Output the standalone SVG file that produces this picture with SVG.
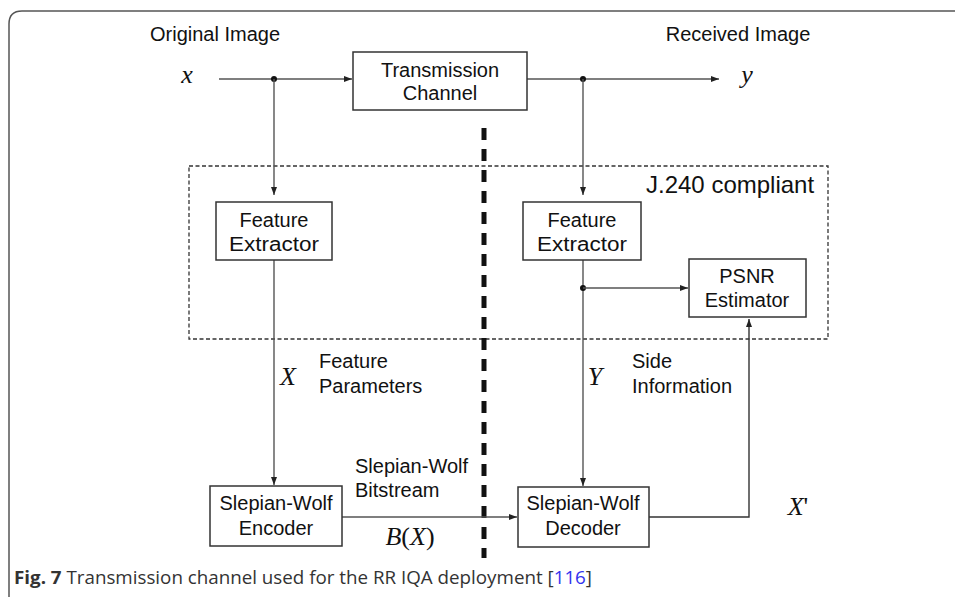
<svg xmlns="http://www.w3.org/2000/svg" width="955" height="599" viewBox="0 0 955 599">
<style>
.box{fill:#fff;stroke:#333;stroke-width:1.5}
.t{font-family:"Liberation Sans",Arial,sans-serif;font-size:20px;fill:#111;text-anchor:middle}
.tl{font-family:"Liberation Sans",Arial,sans-serif;font-size:20px;fill:#111}
.m{font-family:"Liberation Serif","Times New Roman",serif;font-style:italic;font-size:26px;fill:#111;text-anchor:middle}
.up{font-style:normal}
.c{stroke:#555;stroke-width:1.4;fill:none}
.cap{font-family:"Open Sans","Noto Sans",sans-serif;font-size:18.5px;fill:#333}
</style>
<defs>
<marker id="ah" viewBox="0 0 8 6" refX="8" refY="3" markerWidth="8" markerHeight="6" markerUnits="userSpaceOnUse" orient="auto">
<path d="M0,0 L8,3 L0,6 Z" fill="#222"/>
</marker>
</defs>
<rect width="955" height="599" fill="#fff"/>
<path d="M9,597 L9,24 Q9,11 22,11 L955,11" fill="none" stroke="#555" stroke-width="1.5"/>

<g id="region">
<rect x="189" y="166" width="639" height="173" fill="none" stroke="#333" stroke-width="1.3" stroke-dasharray="4,2.5"/>
<text class="tl" x="646" y="193" style="font-size:24px">J.240 compliant</text>
</g>

<g id="divider">
<line x1="484" y1="128" x2="484" y2="558" stroke="#111" stroke-width="5" stroke-dasharray="12,9"/>
</g>

<g id="connectors">
<line class="c" x1="219" y1="79" x2="352" y2="79" marker-end="url(#ah)"/>
<circle cx="274" cy="79" r="3" fill="#111"/>
<line class="c" x1="274" y1="79" x2="274" y2="195" marker-end="url(#ah)"/>
<line class="c" x1="527" y1="79" x2="719" y2="79" marker-end="url(#ah)"/>
<circle cx="583" cy="79" r="3" fill="#111"/>
<line class="c" x1="583" y1="79" x2="583" y2="195" marker-end="url(#ah)"/>
<line class="c" x1="274" y1="260" x2="274" y2="485" marker-end="url(#ah)"/>
<line class="c" x1="583" y1="260" x2="583" y2="486" marker-end="url(#ah)"/>
<circle cx="583" cy="288" r="3" fill="#111"/>
<line class="c" x1="583" y1="288" x2="688" y2="288" marker-end="url(#ah)"/>
<line class="c" x1="342" y1="517" x2="517" y2="517" marker-end="url(#ah)"/>
<polyline class="c" points="649,517 749,517 749,319" marker-end="url(#ah)" style="stroke:#333"/>
</g>

<g id="tc">
<rect class="box" x="353" y="52" width="174" height="58"/>
<text class="t" x="440" y="77">Transmission</text>
<text class="t" x="440" y="100">Channel</text>
</g>
<g id="fe1">
<rect class="box" x="216" y="202" width="116" height="58"/>
<text class="t" x="274" y="227">Feature</text>
<text class="t" x="274" y="251" textLength="90" lengthAdjust="spacingAndGlyphs">Extractor</text>
</g>
<g id="fe2">
<rect class="box" x="523" y="202" width="118" height="58"/>
<text class="t" x="582" y="227">Feature</text>
<text class="t" x="582" y="251" textLength="90" lengthAdjust="spacingAndGlyphs">Extractor</text>
</g>
<g id="psnr">
<rect class="box" x="689" y="259" width="117" height="58"/>
<text class="t" x="747" y="283">PSNR</text>
<text class="t" x="747" y="307">Estimator</text>
</g>
<g id="enc">
<rect class="box" x="210" y="486" width="132" height="60"/>
<text class="t" x="276" y="510">Slepian-Wolf</text>
<text class="t" x="276" y="535">Encoder</text>
</g>
<g id="dec">
<rect class="box" x="518" y="487" width="131" height="60"/>
<text class="t" x="583" y="510">Slepian-Wolf</text>
<text class="t" x="583" y="535">Decoder</text>
</g>

<g id="labels">
<text class="t" x="215" y="41">Original Image</text>
<text class="t" x="738" y="41">Received Image</text>
<text class="m" x="187" y="83">x</text>
<text class="m" x="747" y="83">y</text>
<text class="m" x="288" y="385">X</text>
<text class="tl" x="319" y="368">Feature</text>
<text class="tl" x="319" y="393">Parameters</text>
<text class="m" x="595" y="385">Y</text>
<text class="tl" x="632" y="368">Side</text>
<text class="tl" x="632" y="393">Information</text>
<text class="tl" x="355" y="473">Slepian-Wolf</text>
<text class="tl" x="355" y="497">Bitstream</text>
<text class="m" x="410" y="545">B<tspan class="up">(</tspan>X<tspan class="up">)</tspan></text>
<text class="m" x="798" y="515">X<tspan class="up">'</tspan></text>
</g>

<text class="cap" x="14" y="584" textLength="578" lengthAdjust="spacingAndGlyphs"><tspan font-weight="bold">Fig. 7</tspan>  Transmission channel used for the RR IQA deployment [<tspan fill="#3333ee">116</tspan>]</text>
</svg>
